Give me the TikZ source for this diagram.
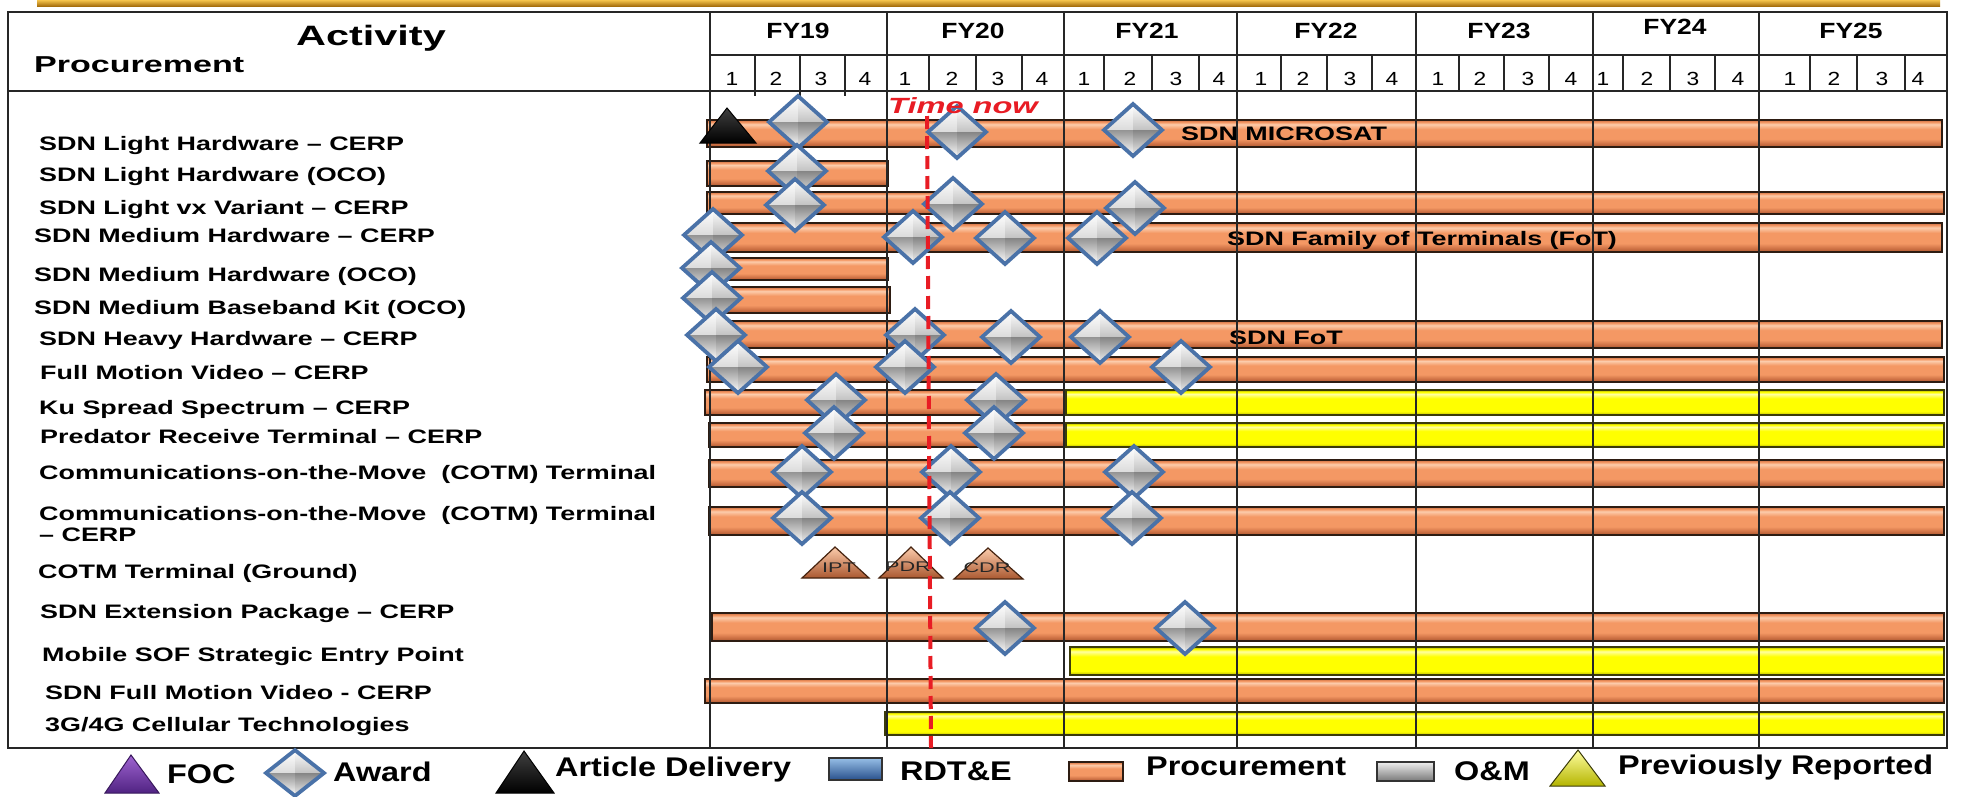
\documentclass[tikz,border=0pt]{standalone}
\usepackage{fontspec}
\usepackage{graphicx}
\setmainfont{Liberation Sans}
\newfontfamily\flab[FakeStretch=1.38]{Liberation Sans}
\newfontfamily\fact[FakeStretch=1.48]{Liberation Sans}
\newfontfamily\fleg[FakeStretch=1.2]{Liberation Sans}
\newfontfamily\fsm[FakeStretch=1.55]{Liberation Sans}
\definecolor{orD}{RGB}{170,88,48}
\definecolor{orM}{RGB}{244,152,100}
\definecolor{orL}{RGB}{252,204,172}
\definecolor{orE}{RGB}{205,112,68}
\definecolor{yD}{RGB}{180,180,0}
\definecolor{yM}{RGB}{255,255,0}
\definecolor{yL}{RGB}{255,255,160}
\definecolor{obline}{RGB}{45,28,18}
\definecolor{ybline}{RGB}{60,60,10}
\definecolor{msline}{RGB}{70,35,15}
\definecolor{awblue}{RGB}{74,114,168}
\definecolor{nowred}{RGB}{232,28,36}
\definecolor{gold1}{RGB}{245,196,76}
\definecolor{gold2}{RGB}{160,104,8}
\definecolor{bD}{RGB}{40,80,140}
\definecolor{bM}{RGB}{79,129,189}
\definecolor{bL}{RGB}{150,190,230}
\definecolor{gD}{RGB}{120,120,120}
\definecolor{gM}{RGB}{190,190,190}
\definecolor{gL}{RGB}{238,238,238}
\definecolor{puD}{RGB}{80,35,130}
\definecolor{puL}{RGB}{160,100,210}
\pgfdeclareverticalshading{orbar}{100bp}{color(0bp)=(orD); color(25bp)=(orD); color(31bp)=(orE); color(40bp)=(orM); color(58bp)=(orM); color(67bp)=(orL); color(71bp)=(orM); color(75bp)=(orE); color(100bp)=(orE)}
\pgfdeclareverticalshading{ybar}{100bp}{color(0bp)=(yD); color(25bp)=(yD); color(32bp)=(yM); color(58bp)=(yM); color(67bp)=(yL); color(71bp)=(yM); color(75bp)=(yD); color(100bp)=(yD)}
\tikzset{award/.pic={
  \shade[top color=white, bottom color=black!14] (-29,0) -- (0,-26) -- (0,0) -- cycle;
  \shade[top color=white, bottom color=black!24] (0,-26) -- (29,0) -- (0,0) -- cycle;
  \shade[top color=black!42, bottom color=white] (-29,0) -- (0,0) -- (0,26) -- cycle;
  \shade[top color=black!48, bottom color=black!6] (0,0) -- (29,0) -- (0,26) -- cycle;
  \draw[draw=awblue, line width=3.8, line join=miter] (-29,0) -- (0,-26) -- (29,0) -- (0,26) -- cycle;
}}
\begin{document}
\begin{tikzpicture}[x=1pt,y=-1pt,
  tline/.style={draw=black!85,line width=2},
  obarst/.style={shade,shading=orbar,draw=obline,line width=1.6},
  ybarst/.style={shade,shading=ybar,draw=ybline,line width=1.6},
  lab/.style={font=\flab\bfseries\fontsize{19.5}{21}\selectfont,anchor=base west,inner sep=0pt,text=black},
  fy/.style={font=\fleg\bfseries\fontsize{22}{24}\selectfont,anchor=base,inner sep=0pt},
  qn/.style={font=\fleg\fontsize{19}{20}\selectfont,anchor=base,inner sep=0pt},
  leg/.style={font=\fleg\bfseries\fontsize{27}{29}\selectfont,anchor=base west,inner sep=0pt},
  mstri/.style={top color=orL,bottom color=orD,draw=msline,line width=1.2},
  mstxt/.style={font=\fsm\fontsize{14}{15}\selectfont,anchor=base,inner sep=0pt,text=black!85},
  nowline/.style={draw=nowred,line width=4,dash pattern=on 13pt off 7pt},
]
\useasboundingbox (0,0) rectangle (1961,796);
\fill[white] (0,0) rectangle (1961,796);
% gold rule
\shade[top color=gold1,bottom color=gold2] (37,0) rectangle (1940,6.5);

% header texts
\node[font=\fact\bfseries\fontsize{28}{30}\selectfont,anchor=base,inner sep=0pt] (act) at (371,45) {Activity};
\node[font=\fact\bfseries\fontsize{23}{25}\selectfont,anchor=base west,inner sep=0pt] (proc) at (34,72) {Procurement};
\foreach \n/\fx/\fb in {19/798/38,20/973/38,21/1147/38,22/1326/38,23/1499/38,24/1675/34,25/1851/38}
  \node[fy] (fy\n) at (\fx,\fb) {FY\n};
\foreach \qx/\qt [count=\i] in {732/1,776/2,821/3,865/4,905/1,952/2,998/3,1042/4,1084/1,1130/2,1176/3,1219/4,1261/1,1303/2,1350/3,1392/4,1438/1,1480/2,1528/3,1571/4,1603/1,1647/2,1693/3,1738/4,1790/1,1834/2,1882/3,1918/4}
  \node[qn] (q\i) at (\qx,85) {\qt};

% activity labels
\node[lab] (l1) at (39,150) {SDN Light Hardware – CERP};
\node[lab] (l2) at (39,181) {SDN Light Hardware (OCO)};
\node[lab] (l3) at (39,214) {SDN Light vx Variant – CERP};
\node[lab] (l4) at (34,242) {SDN Medium Hardware – CERP};
\node[lab] (l5) at (34,281) {SDN Medium Hardware (OCO)};
\node[lab] (l6) at (34,314) {SDN Medium Baseband Kit (OCO)};
\node[lab] (l7) at (39,345) {SDN Heavy Hardware – CERP};
\node[lab] (l8) at (40,379) {Full Motion Video – CERP};
\node[lab] (l9) at (39,414) {Ku Spread Spectrum – CERP};
\node[lab] (l10) at (40,443) {Predator Receive Terminal – CERP};
\node[lab] (l11) at (39,479) {Communications-on-the-Move~ (COTM) Terminal};
\node[lab] (l12) at (39,520) {Communications-on-the-Move~ (COTM) Terminal};
\node[lab] (l12b) at (39,541) {– CERP};
\node[lab] (l13) at (38,578) {COTM Terminal (Ground)};
\node[lab] (l14) at (40,618) {SDN Extension Package – CERP};
\node[lab] (l15) at (42,661) {Mobile SOF Strategic Entry Point};
\node[lab] (l16) at (45,699) {SDN Full Motion Video - CERP};
\node[lab] (l17) at (45,731) {3G/4G Cellular Technologies};

% bars
\foreach \a/\b/\c/\d in {707/120/1942/147, 707/161/888/186, 707/192/1944/214, 706/223/1942/252, 708/258/888/280, 710/287/890/313, 706/321/1942/348, 707/357/1944/382, 705/390/1066/415, 709/423/1066/447, 709/460/1944/487, 709/507/1944/535, 712/613/1944/641, 705/679/1944/703}
  \path[obarst] (\a,\b) rectangle (\c,\d);
\foreach \a/\b/\c/\d in {1066/390/1944/415, 1066/423/1944/447, 1070/647/1944/675, 885/712/1944/735}
  \path[ybarst] (\a,\b) rectangle (\c,\d);

% bar texts
\node[lab] (t1) at (1181,140) {SDN MICROSAT};
\node[lab] (t2) at (1227,245) {SDN Family of Terminals (FoT)};
\node[lab] (t3) at (1229,344) {SDN FoT};

% table lines
\draw[tline] (8,12) rectangle (1947,748);
\draw[tline] (8,91) -- (1947,91);
\draw[tline] (710,55) -- (1947,55);
\foreach \gx in {710,887,1064,1237,1416,1593,1759}
  \draw[tline] (\gx,12) -- (\gx,748);
\foreach \qx in {755,800,845}
  \draw[tline] (\qx,55) -- (\qx,96);
\foreach \qx in {929,976,1022,1104,1152,1199,1281,1327,1372,1459,1504,1549,1623,1670,1715,1810,1857,1905}
  \draw[tline] (\qx,55) -- (\qx,91);

% article delivery triangle
\shade[top color=black!75,bottom color=black,draw=black,line width=1] (700,143) -- (727,108) -- (756,143) -- cycle;

% awards
\foreach \px/\py in {798/122, 957/132, 1133/130, 797/171, 795/205, 953/204, 1135/208, 713/235, 913/237, 1005/238, 1097/238, 711/268, 712/298, 716/335, 915/335, 1011/337, 1100/337, 738/367, 905/367, 1181/367, 836/400, 996/400, 834/433, 994/433, 802/472, 951/472, 1134/472, 802/518, 950/518, 1132/518, 1005/628, 1185/628}
  \pic at (\px,\py) {award};

% milestone triangles
\shade[mstri] (802,578) -- (835,547) -- (869,578) -- cycle;
\shade[mstri] (879,578) -- (911,547) -- (943,578) -- cycle;
\shade[mstri] (954,579) -- (988,548) -- (1023,579) -- cycle;
\node[mstxt] (ipt) at (839,572) {IPT};
\node[mstxt] (pdr) at (908,571) {PDR};
\node[mstxt] (cdr) at (987,572) {CDR};

% time now
\coordinate (nowtop) at (927,116);
\coordinate (nowbot) at (931,748);
\draw[nowline] (nowtop) -- (nowbot);
\node[font=\fact\bfseries\itshape\fontsize{22}{24}\selectfont,text=nowred,anchor=base west,inner sep=0pt] (now) at (888,113) {Time now};

% legend
\shade[top color=puL,bottom color=puD,draw=puD!70!black,line width=1] (105,793) -- (131,755) -- (159,793) -- cycle;
\node[leg] (lgfoc) at (167,783) {FOC};
\pic[yscale=0.88] at (295,773) {award};
\node[leg] (lgaw) at (333,781) {Award};
\shade[top color=black!75,bottom color=black,draw=black,line width=1] (496,793) -- (524,751) -- (554,793) -- cycle;
\node[leg] (lgad) at (555,776) {Article Delivery};
\shade[top color=bL,middle color=bM,bottom color=bD,draw=black!80,line width=1.4] (829,758) rectangle (882,780);
\node[leg] (lgrd) at (900,780) {RDT\&E};
\path[obarst,line width=1.4] (1069,762) rectangle (1123,781);
\node[leg] (lgpr) at (1146,775) {Procurement};
\shade[top color=gL,middle color=gM,bottom color=gD,draw=black!80,line width=1.4] (1377,762) rectangle (1434,781);
\node[leg] (lgom) at (1454,780) {O\&M};
\shade[top color=yL,bottom color=yD,draw=ybline,line width=1] (1550,786) -- (1578,750) -- (1605,786) -- cycle;
\node[leg] (lgpv) at (1618,774) {Previously Reported};
\end{tikzpicture}
\end{document}
